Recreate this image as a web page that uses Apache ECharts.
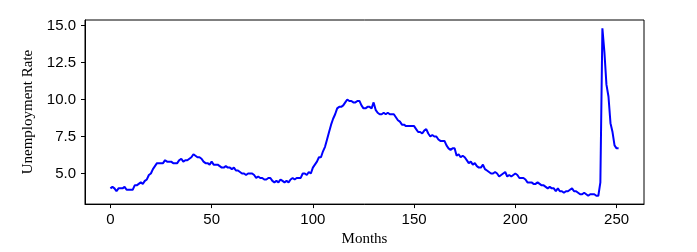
<!DOCTYPE html>
<html><head><meta charset="utf-8">
<script src="https://cdn.jsdelivr.net/npm/echarts@6/dist/echarts.min.js"></script>
<style>html,body{margin:0;padding:0;background:#fff}#c{width:697px;height:252px}</style>
</head><body><div id="c"></div>
<script>
const rate = [
4.0,4.1,4.0,3.8,4.0,4.0,4.0,4.1,3.9,3.9,3.9,3.9,
4.2,4.2,4.3,4.4,4.3,4.5,4.6,4.9,5.0,5.3,5.5,5.7,
5.7,5.7,5.7,5.9,5.8,5.8,5.8,5.7,5.7,5.7,5.9,6.0,
5.8,5.9,5.9,6.0,6.1,6.3,6.2,6.1,6.1,6.0,5.8,5.7,
5.7,5.6,5.8,5.6,5.6,5.6,5.5,5.4,5.4,5.5,5.4,5.4,
5.3,5.4,5.2,5.2,5.1,5.0,5.0,4.9,5.0,5.0,5.0,4.9,
4.7,4.8,4.7,4.7,4.6,4.6,4.7,4.7,4.5,4.4,4.5,4.4,
4.6,4.5,4.4,4.5,4.4,4.6,4.7,4.6,4.7,4.7,4.7,5.0,
5.0,4.9,5.1,5.0,5.4,5.6,5.8,6.1,6.1,6.5,6.8,7.3,
7.8,8.3,8.7,9.0,9.4,9.5,9.5,9.6,9.8,10.0,9.9,9.9,
9.8,9.8,9.9,9.9,9.6,9.4,9.4,9.5,9.5,9.4,9.8,9.3,
9.1,9.0,9.0,9.1,9.0,9.1,9.0,9.0,9.0,8.8,8.6,8.5,
8.3,8.3,8.2,8.2,8.2,8.2,8.2,8.0,7.8,7.8,7.7,7.9,
8.0,7.7,7.5,7.6,7.5,7.5,7.3,7.2,7.2,7.2,6.9,6.7,
6.6,6.7,6.7,6.2,6.3,6.1,6.2,6.1,5.9,5.7,5.8,5.6,
5.7,5.5,5.4,5.4,5.6,5.3,5.2,5.1,5.0,5.0,5.1,5.0,
4.8,4.9,5.0,5.1,4.8,4.9,4.8,4.9,5.0,4.9,4.7,4.7,
4.7,4.6,4.4,4.4,4.4,4.3,4.3,4.4,4.3,4.2,4.2,4.1,
4.0,4.1,4.0,4.0,3.8,4.0,3.8,3.8,3.7,3.8,3.8,3.9,
4.0,3.8,3.8,3.7,3.6,3.6,3.7,3.6,3.5,3.6,3.6,3.6,
3.5,3.5,4.4,14.8,13.2,11.0,10.2,8.4,7.8,6.9,6.7,6.7
];
const xTicks = [0,50,100,150,200,250];
const yTicks = [5,7.5,10,12.5,15];
const months = rate.map((_, i) => i);

const n = rate.length - 1;
const xPad = n * 0.05;
const yMin = Math.min(...rate), yMax = Math.max(...rate);
const yPad = (yMax - yMin) * 0.05;

const tickFont = {fontFamily: 'Liberation Sans', fontSize: 15, color: '#000'};
const chart = echarts.init(document.getElementById('c'), null, {renderer: 'canvas'});
chart.setOption({
  animation: false,
  backgroundColor: '#fff',
  grid: {left: 85, right: 53, top: 20, bottom: 45, show: true, borderColor: '#000', borderWidth: 1, backgroundColor: 'transparent'},
  xAxis: {
    type: 'value', min: -xPad, max: n + xPad,
    name: 'Months', nameLocation: 'middle', nameGap: 27,
    nameTextStyle: {fontFamily: 'Liberation Serif', fontSize: 15, color: '#000'},
    axisLine: {show: true, onZero: false, lineStyle: {color: '#000', width: 1}},
    axisTick: {show: true, length: 4, lineStyle: {color: '#000'}, customValues: xTicks},
    axisLabel: Object.assign({customValues: xTicks, margin: 8}, tickFont),
    splitLine: {show: false}
  },
  yAxis: {
    type: 'value', min: yMin - yPad, max: yMax + yPad,
    name: 'Unemployment Rate', nameLocation: 'middle', nameGap: 44,
    nameTextStyle: {fontFamily: 'Liberation Serif', fontSize: 15, color: '#000'},
    axisLine: {show: true, onZero: false, lineStyle: {color: '#000', width: 1}},
    axisTick: {show: true, length: 4, lineStyle: {color: '#000'}, customValues: yTicks},
    axisLabel: Object.assign({customValues: yTicks, margin: 9, formatter: v => v.toFixed(1)}, tickFont),
    splitLine: {show: false}
  },
  series: [{
    type: 'line',
    data: months.map((m, i) => [m, rate[i]]),
    showSymbol: false,
    lineStyle: {color: '#0000ff', width: 2},
    itemStyle: {color: '#0000ff'}
  }]
});
</script></body></html>
